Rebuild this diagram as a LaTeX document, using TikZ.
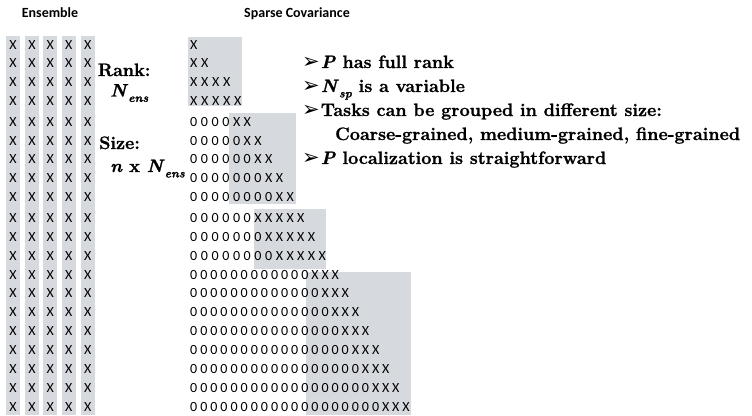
\documentclass[tikz,border=0pt]{standalone}
\usepackage{fontspec}
\setmainfont{Latin Modern Roman}[BoldFeatures={FakeBold=1.2},BoldItalicFeatures={FakeBold=1.2}]
\newfontfamily\calfont{Carlito}
\newfontfamily\djvfont{DejaVu Sans}
\definecolor{blk}{RGB}{214,217,222}
\newlength\chpitch
\def\spc#1{\spcA#1\relax}
\def\spcA#1{\ifx\relax#1\else\makebox[\chpitch][l]{#1}\expandafter\spcA\fi}
\newcommand\subtxt[1]{\raisebox{-0.3em}{\fontsize{12}{12}\selectfont\textit{#1}}}
\begin{document}
\begin{tikzpicture}[x=1pt,y=-1pt,
  grayblk/.style={fill=blk,draw=none},
  mono/.style={font=\calfont\fontsize{14}{16}\selectfont,inner sep=0,anchor=base west},
  ensx/.style={font=\calfont\fontsize{14}{16}\selectfont,inner sep=0,anchor=base},
  head/.style={font=\calfont\bfseries\fontsize{14}{16}\selectfont,inner sep=0,anchor=base},
  lbl/.style={font=\bfseries\fontsize{18}{20}\selectfont,inner sep=0,anchor=base west},
  bul/.style={font=\djvfont\fontsize{21}{22}\selectfont,inner sep=0,anchor=west}]
\useasboundingbox (0,0) rectangle (752,415);
% headings
\node[head] (hens) at (50,17.5) {Ensemble};
\node[head] (hsp) at (297,17.8) {Sparse Covariance};
% ensemble bars
\foreach \xa/\xb [count=\c] in {6/20,25/39.3,43.3/57.3,61.7/76,80.7/95}
  \path[grayblk] (\xa,36) rectangle (\xb,415);
\foreach \yb [count=\r] in {49.5,67.8,86.8,105.2,126.2,145.2,163.8,182.8,201.8,222.8,241.2,260.2,279,297.9,316.8,335.7,354.6,373.5,392.4,411.3}
  \foreach \cx [count=\c] in {13,32.1,50.3,68.8,87.8}
    \node[ensx] (e\c-\r) at (\cx,\yb) {X};
% sparse blocks
\path[grayblk] (188,37) rectangle (242,106);
\path[grayblk] (229,113) rectangle (296,204);
\path[grayblk] (254,209) rectangle (326,269);
\path[grayblk] (306,272) rectangle (411,415);
\foreach \s/\yb [count=\i] in {X/49.5,XX/67.8,XXXX/86.8,XXXXX/105.2}
  \node[mono] (sa\i) at (190,\yb) {\setlength\chpitch{11pt}\expandafter\spc\expandafter{\s}};
\foreach \s/\yb [count=\i] in {0000XX/126.2,00000XX/145.2,000000XX/163.8,0000000XX/182.8,00000000XX/201.8}
  \node[mono] (sb\i) at (190,\yb) {\setlength\chpitch{10.7pt}\expandafter\spc\expandafter{\s}};
\foreach \s/\yb [count=\i] in {000000XXXXX/222.8,0000000XXXXX/241.2,00000000XXXXX/260.2}
  \node[mono] (sc\i) at (190,\yb) {\setlength\chpitch{10.7pt}\expandafter\spc\expandafter{\s}};
\foreach \s/\yb [count=\i] in {000000000000XXX/279,0000000000000XXX/297.9,00000000000000XXX/316.8,000000000000000XXX/335.7,0000000000000000XXX/354.6,00000000000000000XXX/373.5,000000000000000000XXX/392.4,0000000000000000000XXX/411.3}
  \node[mono] (sd\i) at (190,\yb) {\setlength\chpitch{10.1pt}\expandafter\spc\expandafter{\s}};
% rank / size labels
\node[lbl] (rank) at (97.7,76) {Rank:};
\node[lbl] (rankv) at (110,96.5) {\textit{N}\subtxt{ens}};
\node[lbl] (size) at (99,149) {Size:};
\node[lbl] (sizev) at (110,172) {\textit{n} x \textit{N}\subtxt{ens}};
% bullets
\node[bul] (a1) at (302,63) {➢};
\node[lbl] (t1) at (320.7,68) {\textit{P} has full rank};
\node[bul] (a2) at (302,87) {➢};
\node[lbl] (t2) at (320.7,92) {\textit{N}\subtxt{sp} is a variable};
\node[bul] (a3) at (302,111) {➢};
\node[lbl] (t3) at (320.7,116) {Tasks can be grouped in different size:};
\node[lbl] (t4) at (335,140) {Coarse-grained, medium-grained, fine-grained};
\node[bul] (a5) at (302,159) {➢};
\node[lbl] (t5) at (320.7,164) {\textit{P} localization is straightforward};
\end{tikzpicture}
\end{document}
